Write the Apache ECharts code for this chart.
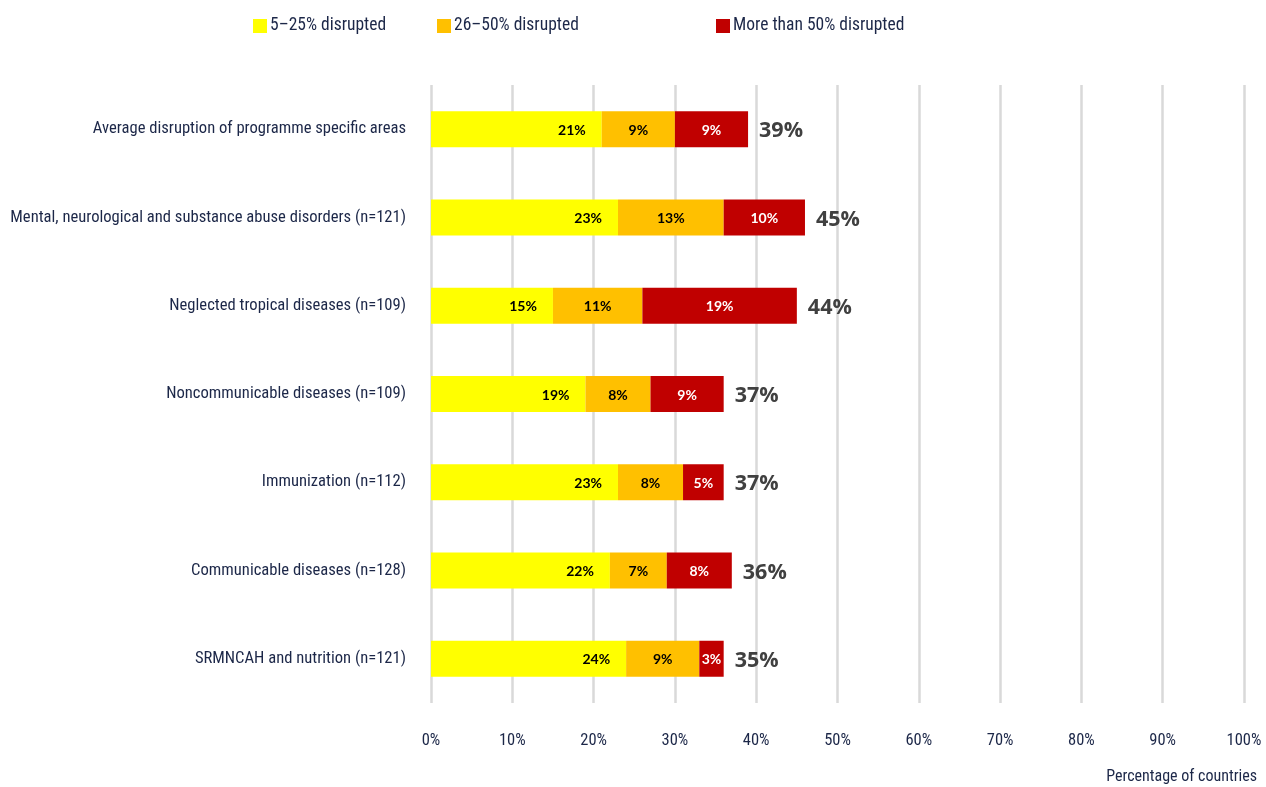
<!DOCTYPE html>
<html>
<head>
<meta charset="utf-8">
<script src="https://cdn.jsdelivr.net/npm/echarts@6/dist/echarts.min.js"></script>
<style>
  html, body { margin: 0; padding: 0; background: #ffffff; }
  #chart { width: 1266px; height: 787px; }
</style>
</head>
<body>
<div id="chart"></div>
<script>
// Programme areas, top to bottom
const categories = [
  'Average disruption of programme specific areas',
  'Mental, neurological and substance abuse disorders (n=121)',
  'Neglected tropical diseases (n=109)',
  'Noncommunicable diseases (n=109)',
  'Immunization (n=112)',
  'Communicable diseases (n=128)',
  'SRMNCAH and nutrition (n=121)'
];

// Share of countries (%) by level of disruption
const low = [21, 23, 15, 19, 23, 22, 24];      // 5–25% disrupted
const mid = [9, 13, 11, 8, 8, 7, 9];           // 26–50% disrupted
const high = [9, 10, 19, 9, 5, 8, 3];          // More than 50% disrupted
const totals = [39, 45, 44, 37, 37, 36, 35];   // overall share disrupted

const seriesNames = ['5–25% disrupted', '26–50% disrupted', 'More than 50% disrupted'];
const xTicks = [0, 10, 20, 30, 40, 50, 60, 70, 80, 90, 100];

const FONT = "'Roboto Condensed', 'DejaVu Sans Condensed', sans-serif";
const TEXT = '#1c2748';
const colors = ['#ffff00', '#ffc000', '#c00000'];

const chart = echarts.init(document.getElementById('chart'), null, { renderer: 'canvas' });

const legendAt = [253, 437, 716];
const legends = seriesNames.map((n, i) => ({
  data: [n],
  left: legendAt[i],
  top: 17,
  padding: 0,
  itemWidth: 14,
  itemHeight: 14,
  itemGap: 0,
  icon: 'rect',
  selectedMode: false,
  textStyle: { fontFamily: FONT, fontSize: 17.5, color: TEXT, padding: [0, 0, 0, -2] }
}));

const segLabel = (color, pos, dist) => ({
  show: true,
  position: pos,
  distance: dist,
  offset: [0, 1],
  formatter: p => p.value + '%',
  fontFamily: "Lato, 'Open Sans', sans-serif",
  fontWeight: 'bold',
  fontSize: 14,
  color: color
});

chart.setOption({
  animation: false,
  backgroundColor: '#ffffff',
  legend: legends,
  grid: { left: 431, right: 22, top: 85, bottom: 84, containLabel: false, outerBoundsMode: 'none' },
  xAxis: {
    type: 'value',
    min: 0,
    max: 100,
    interval: 10,
    axisLine: { show: false },
    axisTick: { show: false },
    axisLabel: {
      formatter: v => xTicks.includes(v) ? v + '%' : '',
      margin: 29,
      fontFamily: FONT,
      fontSize: 16.5,
      color: TEXT
    },
    splitLine: { show: true, lineStyle: { color: '#d9d9d9', width: 2.5 } }
  },
  yAxis: {
    type: 'category',
    data: categories,
    inverse: true,
    axisLine: { show: false },
    axisTick: { show: false },
    axisLabel: {
      margin: 25,
      fontFamily: FONT,
      fontSize: 16.6,
      color: TEXT
    }
  },
  graphic: [{
    type: 'text',
    right: 9,
    top: 769,
    style: { text: 'Percentage of countries', font: '16px ' + FONT, fill: TEXT }
  }],
  series: [
    {
      name: seriesNames[0], type: 'bar', stack: 'total', data: low, barWidth: 36,
      itemStyle: { color: colors[0] },
      label: segLabel('#000000', 'insideRight', 16)
    },
    {
      name: seriesNames[1], type: 'bar', stack: 'total', data: mid, barWidth: 36,
      itemStyle: { color: colors[1] },
      label: segLabel('#000000', 'inside', 0)
    },
    {
      name: seriesNames[2], type: 'bar', stack: 'total', data: high, barWidth: 36,
      itemStyle: { color: colors[2] },
      label: segLabel('#ffffff', 'inside', 0)
    },
    {
      // zero-width series that carries the overall total label after each bar
      name: 'total', type: 'bar', stack: 'total', data: totals.map(() => 0), barWidth: 36,
      itemStyle: { color: 'transparent' },
      label: {
        show: true,
        position: 'right',
        distance: 11,
        offset: [0, 2],
        formatter: p => totals[p.dataIndex] + '%',
        fontFamily: "'Open Sans', 'DejaVu Sans', sans-serif",
        fontWeight: 'bold',
        fontSize: 21.5,
        color: '#404040'
      }
    }
  ]
});
</script>
</body>
</html>
